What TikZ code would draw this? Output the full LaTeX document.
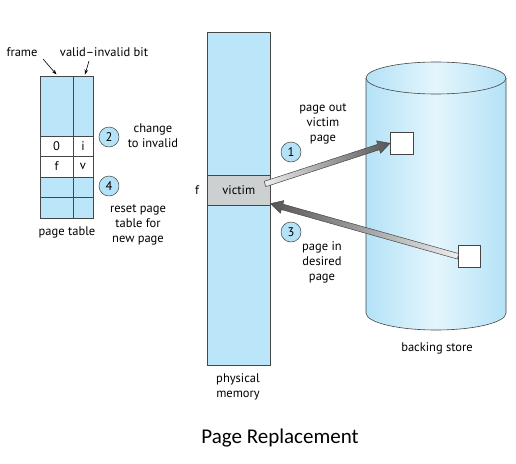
\documentclass[tikz,border=0pt]{standalone}
\usepackage{fontspec}
\setmainfont{PT Sans}
\newfontfamily\titlefont{Carlito}
\usetikzlibrary{calc,arrows.meta}
\definecolor{pblue}{RGB}{187,230,249}
\definecolor{cblue}{RGB}{180,226,247}
\definecolor{clight}{RGB}{228,245,252}
\definecolor{vgray}{RGB}{204,208,208}
\definecolor{edge}{RGB}{70,70,70}
\definecolor{arrdark}{RGB}{85,85,85}
\definecolor{arrlight}{RGB}{238,238,238}
\newcommand\fatarrow[3]{%
  \coordinate (hb) at ($(#2)!12pt!(#1)$);
  \shade[draw=edge, line width=0.5pt, #3]
    ($(#1)!2.8pt!90:(#2)$) -- ($(hb)!2.8pt!-90:(#1)$) -- ($(hb)!6.5pt!-90:(#1)$)
    -- (#2) -- ($(hb)!6.5pt!90:(#1)$) -- ($(hb)!2.8pt!90:(#1)$)
    -- ($(#1)!2.8pt!-90:(#2)$) -- cycle;}
\begin{document}
\begin{tikzpicture}[x=1pt,y=-1pt,
  lbl/.style={font=\fontsize{12.5}{15}\selectfont, align=center, inner sep=0pt},
  cell/.style={draw=edge, line width=0.6pt, anchor=north west, inner sep=0pt, outer sep=0pt, font=\fontsize{12.5}{14}\selectfont},
  stepnum/.style={circle, draw=edge, line width=0.5pt, fill=cblue, minimum size=20pt, inner sep=0pt, font=\fontsize{12.5}{14}\selectfont},
  sq/.style={draw=edge, line width=0.6pt, fill=white, inner sep=0pt, anchor=north west},
  thin arrow/.style={-{Stealth[length=5pt,width=3.5pt]}, line width=0.6pt, black}]
\useasboundingbox (0,0) rectangle (516,463);

% page table
\node[cell, fill=pblue, minimum width=33, minimum height=60] (f0) at (40,76) {};
\node[cell, fill=pblue, minimum width=20, minimum height=60] (b0) at (73,76) {};
\node[cell, fill=white, minimum width=33, minimum height=20] (f1) at (40,136) {0};
\node[cell, fill=white, minimum width=20, minimum height=20] (b1) at (73,136) {i};
\node[cell, fill=white, minimum width=33, minimum height=21] (f2) at (40,156) {f};
\node[cell, fill=white, minimum width=20, minimum height=21] (b2) at (73,156) {v};
\node[cell, fill=pblue, minimum width=33, minimum height=20] (f3) at (40,177) {};
\node[cell, fill=pblue, minimum width=20, minimum height=20] (b3) at (73,177) {};
\node[cell, fill=pblue, minimum width=33, minimum height=21] (f4) at (40,197) {};
\node[cell, fill=pblue, minimum width=20, minimum height=21] (b4) at (73,197) {};

\node[lbl] (lframe) at (22,52) {frame};
\node[lbl] (lvalid) at (104,52) {valid--invalid bit};
\coordinate (fa) at (43,59);
\coordinate (va) at (89,61);
\draw[thin arrow] (fa) -- ($(f0.north)+(0,-1.5)$);
\draw[thin arrow] (va) -- ($(b0.north)+(2,-1.5)$);
\node[lbl] (lpt) at (67,232) {page table};

\node[stepnum] (c2) at (109,137) {2};
\node[lbl] (lchange) at (153,136) {change\\to invalid};
\node[stepnum] (c4) at (109,186) {4};
\node[lbl] (lreset) at (138,225) {reset page\\table for\\new page};

% physical memory
\node[draw=edge, line width=0.6pt, fill=pblue, minimum width=63, minimum height=333, anchor=north west, inner sep=0pt] (pm) at (207,32) {};
\node[draw=edge, line width=0.6pt, fill=vgray, minimum width=63, minimum height=30, anchor=north west, inner sep=0pt, font=\fontsize{12.5}{14}\selectfont] (victim) at (207,175) {victim};
\node[lbl] (lf) at (197,190) {f};
\node[lbl] (lpm) at (238,387) {physical\\memory};

% backing store
\shade[left color=cblue, right color=cblue, middle color=clight]
  (366,78) -- (366,313) arc[start angle=180, end angle=0, x radius=70, y radius=17] -- (506,78) -- cycle;
\draw[edge, line width=0.6pt] (366,78) -- (366,313) arc[start angle=180, end angle=0, x radius=70, y radius=17] -- (506,78);
\shade[draw=edge, line width=0.6pt, left color=cblue, right color=cblue, middle color=clight] (436,78) ellipse[x radius=70, y radius=16];
\node[lbl] (lbs) at (437,348) {backing store};

\node[sq, minimum width=23, minimum height=22] (sq1) at (390,132) {};
\node[sq, minimum width=22, minimum height=22] (sq2) at (458,245) {};

\coordinate (t1) at (265,184);
\coordinate (t3) at ($(victim.south east)+(0,-2)$);
\fatarrow{t1}{sq1.west}{left color=arrlight, right color=arrdark}
\fatarrow{sq2.west}{t3}{left color=arrdark, right color=arrlight}

\node[stepnum] (c1) at (291,152) {1};
\node[lbl] (lout) at (323,124) {page out\\victim\\page};
\node[stepnum] (c3) at (291,232) {3};
\node[lbl] (lin) at (322,262) {page in\\desired\\page};

\node[font=\titlefont\fontsize{21}{24}\selectfont, inner sep=0pt] (title) at (280,438) {Page Replacement};
\end{tikzpicture}
\end{document}
